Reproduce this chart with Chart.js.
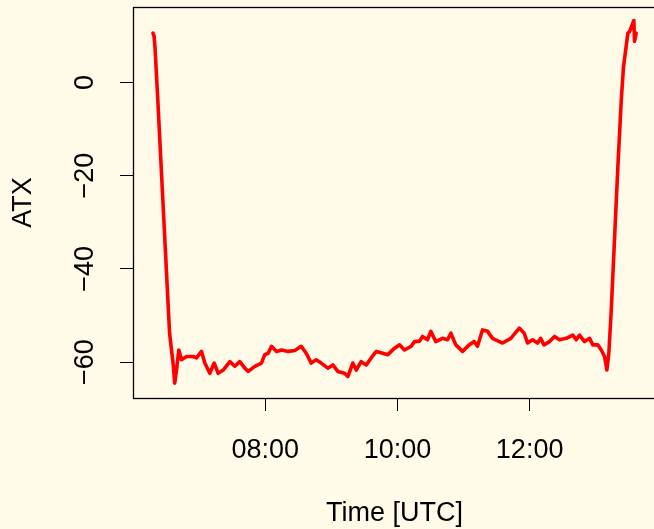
<!DOCTYPE html>
<html>
<head>
<meta charset="utf-8">
<script src="https://cdn.jsdelivr.net/npm/chart.js@4/dist/chart.umd.min.js"></script>
<style>
  html, body { margin: 0; padding: 0; background: #FFFBE8; overflow: hidden; }
  #atxChart { display: block; }
</style>
</head>
<body>
<canvas id="atxChart"></canvas>
<script>
// time in minutes since 00:00 UTC
const timeMin = [378.1, 379.1, 380.0, 382.5, 388.6, 393.2, 396.5, 397.9, 399.5, 401.6,
  404.0, 408.6, 414.6, 417.6, 422.2, 425.2, 429.7, 433.7, 437.3, 441.9,
  447.9, 452.4, 456.9, 461.5, 464.6, 470.6, 476.6, 479.6, 482.7, 485.7,
  490.3, 494.8, 500.9, 506.9, 512.7, 517.2, 521.8, 526.3, 530.8, 536.8,
  541.4, 545.9, 552.0, 555.0, 559.5, 562.6, 567.1, 571.7, 576.2, 580.8,
  586.7, 591.3, 597.4, 601.9, 606.4, 612.5, 615.5, 620.1, 622.8, 627.3,
  630.3, 634.9, 640.9, 645.5, 648.5, 653.0, 659.1, 665.2, 669.7, 672.7,
  677.2, 681.8, 686.3, 695.4, 702.9, 710.6, 715.1, 718.1, 722.6, 727.2,
  730.0, 733.0, 738.1, 742.6, 747.1, 753.2, 759.2, 762.3, 765.3, 769.8,
  774.4, 777.4, 781.9, 785.0, 788.0, 790.1, 791.9, 794.1, 800.1, 803.2,
  805.2, 809.2, 810.7, 814.6, 815.2, 816.7];
const atx = [10.6, 10.0, 7.5, -3.7, -32.3, -53.8, -60.5, -64.5, -61.7, -57.4,
  -59.5, -58.8, -58.8, -59.1, -57.7, -60.2, -62.4, -60.2, -62.4, -61.7,
  -59.9, -60.9, -59.9, -61.3, -62.0, -60.9, -60.2, -58.4, -58.1, -56.6,
  -57.7, -57.4, -57.7, -57.5, -56.6, -58.1, -60.2, -59.5, -60.2, -61.3,
  -60.6, -62.0, -62.4, -63.1, -60.2, -61.7, -59.9, -60.6, -59.1, -57.7,
  -58.1, -58.4, -57.0, -56.3, -57.4, -56.6, -55.6, -55.5, -54.5, -55.2,
  -53.4, -55.6, -54.9, -55.2, -53.8, -56.3, -57.7, -56.3, -55.6, -56.6,
  -53.1, -53.4, -54.9, -55.9, -54.9, -52.7, -53.8, -55.9, -55.2, -55.9,
  -54.9, -56.3, -55.6, -54.5, -55.2, -54.9, -54.2, -55.2, -54.2, -55.6,
  -54.9, -56.3, -56.3, -57.4, -58.8, -61.7, -58.1, -48.8, -18.0, -3.7,
  3.4, 10.6, 10.9, 13.3, 8.8, 10.6];

const xTicks = [480, 600, 720];
const xTickLabels = ["08:00", "10:00", "12:00"];
const yTicks = [0, -20, -40, -60];
const yTickLabels = ["0", "\u221220", "\u221240", "\u221260"];

document.addEventListener("DOMContentLoaded", function () {
  const canvas = document.getElementById("atxChart");
  canvas.width = 658;
  canvas.height = 529;
  const ctx = canvas.getContext("2d");
  const font = '27px "Liberation Sans", Arial, sans-serif';

  // box + R-style labels
  const rStyle = {
    id: "rStyle",
    afterDraw(chart) {
      const c = chart.ctx;
      const a = chart.chartArea;
      const xs = chart.scales.x;
      const ys = chart.scales.y;
      c.save();
      c.strokeStyle = "#000";
      c.lineWidth = 1.3;
      c.strokeRect(a.left + 0.5, a.top + 0.5, a.right - a.left, a.bottom - a.top);
      c.fillStyle = "#000";
      c.font = font;
      c.textAlign = "center";
      c.textBaseline = "alphabetic";
      xTicks.forEach(function (t, i) {
        c.fillText(xTickLabels[i], xs.getPixelForValue(t), 458);
      });
      c.fillText("Time [UTC]", (a.left + a.right) / 2, 520.5);
      yTicks.forEach(function (t, i) {
        c.save();
        c.translate(93, ys.getPixelForValue(t));
        c.rotate(-Math.PI / 2);
        c.fillText(yTickLabels[i], 0, 0);
        c.restore();
      });
      c.save();
      c.translate(31, (a.top + a.bottom) / 2);
      c.rotate(-Math.PI / 2);
      c.fillText("ATX", 0, 0);
      c.restore();
      c.restore();
    },
  };

  new Chart(ctx, {
    type: "line",
    data: {
      datasets: [
        {
          data: timeMin.map((t, i) => ({ x: t, y: atx[i] })),
          borderColor: "#FF0000",
          borderWidth: 3.6,
          borderJoinStyle: "round",
          borderCapStyle: "round",
          pointRadius: 0,
          tension: 0,
          fill: false,
        },
      ],
    },
    options: {
      responsive: false,
      animation: false,
      layout: { padding: { top: 7, right: 2, left: 0, bottom: 0 } },
      scales: {
        x: {
          type: "linear",
          min: 360,
          max: 834.7,
          afterBuildTicks: (s) => { s.ticks = xTicks.map((v) => ({ value: v })); },
          afterFit: (s) => { s.height = 131; },
          ticks: { display: false },
          grid: { drawOnChartArea: false, drawTicks: true, tickLength: 13, color: "#000", lineWidth: 1 },
          border: { display: true, color: "#000", width: 1 },
        },
        y: {
          min: -67.7,
          max: 16.2,
          afterBuildTicks: (s) => { s.ticks = yTicks.map((v) => ({ value: v })); },
          afterFit: (s) => { s.width = 133; },
          ticks: { display: false },
          grid: { drawOnChartArea: false, drawTicks: true, tickLength: 13, color: "#000", lineWidth: 1 },
          border: { display: true, color: "#000", width: 1 },
        },
      },
      plugins: {
        legend: { display: false },
        tooltip: { enabled: false },
      },
    },
    plugins: [rStyle],
  });
});
</script>
</body>
</html>
